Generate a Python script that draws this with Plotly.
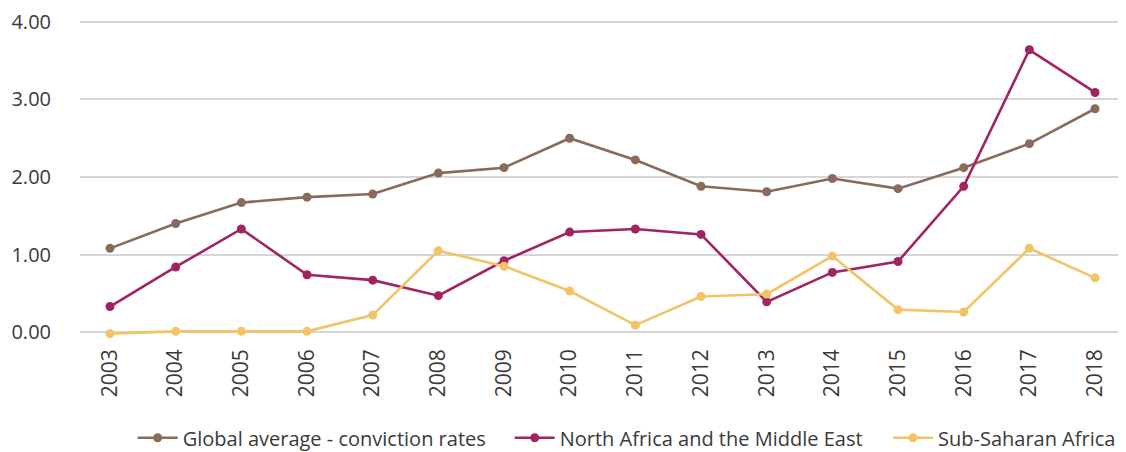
import plotly.graph_objects as go

years = list(range(2003, 2019))
year_labels = [str(y) for y in years]
global_avg = [1.08, 1.40, 1.67, 1.74, 1.78, 2.05, 2.12, 2.50, 2.22, 1.88, 1.81, 1.98, 1.85, 2.12, 2.43, 2.88]
mena = [0.33, 0.84, 1.33, 0.74, 0.67, 0.47, 0.92, 1.29, 1.33, 1.26, 0.39, 0.77, 0.91, 1.88, 3.64, 3.09]
ssa = [-0.02, 0.01, 0.01, 0.01, 0.22, 1.05, 0.85, 0.53, 0.09, 0.46, 0.49, 0.98, 0.29, 0.26, 1.08, 0.70]

series = [
    ("Global average - conviction rates", global_avg, "#8A6A5B", "legend"),
    ("North Africa and the Middle East", mena, "#A12462", "legend2"),
    ("Sub-Saharan Africa", ssa, "#F2C466", "legend3"),
]

fig = go.Figure()
for name, vals, color, lg in series:
    fig.add_trace(go.Scatter(
        x=years, y=vals, name=name, mode="lines+markers",
        line=dict(color=color, width=2.6),
        marker=dict(color=color, size=9),
        cliponaxis=False, legend=lg,
    ))

font_family = "Open Sans, Noto Sans, sans-serif"
legend_common = dict(
    orientation="h", xanchor="left", y=-0.320, yanchor="middle",
    font=dict(size=20, color="#3a3a3a"), itemwidth=40,
)
fig.update_layout(
    width=1118, height=444,
    margin=dict(l=72, r=3, t=10, b=116, autoexpand=False),
    plot_bgcolor="white", paper_bgcolor="white",
    font=dict(family=font_family, color="#3a3a3a", size=18),
    showlegend=True,
    legend=dict(x=0.0505, **legend_common),
    legend2=dict(x=0.412, **legend_common),
    legend3=dict(x=0.7747, **legend_common),
    xaxis=dict(
        range=[2002.543, 2018.426], automargin=False,
        tickmode="array", tickvals=years, ticktext=year_labels,
        tickangle=-90, showgrid=False, zeroline=False, showline=False,
        ticks="", ticklabelstandoff=8, ticklabeloverflow="allow",
        tickfont=dict(size=21, color="#3a3a3a"),
    ),
    yaxis=dict(
        range=[-0.05, 4.05], automargin=False,
        tickvals=[0, 1, 2, 3, 4], tickformat=".2f",
        showgrid=True, gridcolor="#D6D6D6", gridwidth=1.5,
        zeroline=False, showline=False, ticks="",
        ticklabelstandoff=28, ticklabeloverflow="allow",
        tickfont=dict(size=20, color="#3a3a3a"),
    ),
)

fig.write_html("out.html")
